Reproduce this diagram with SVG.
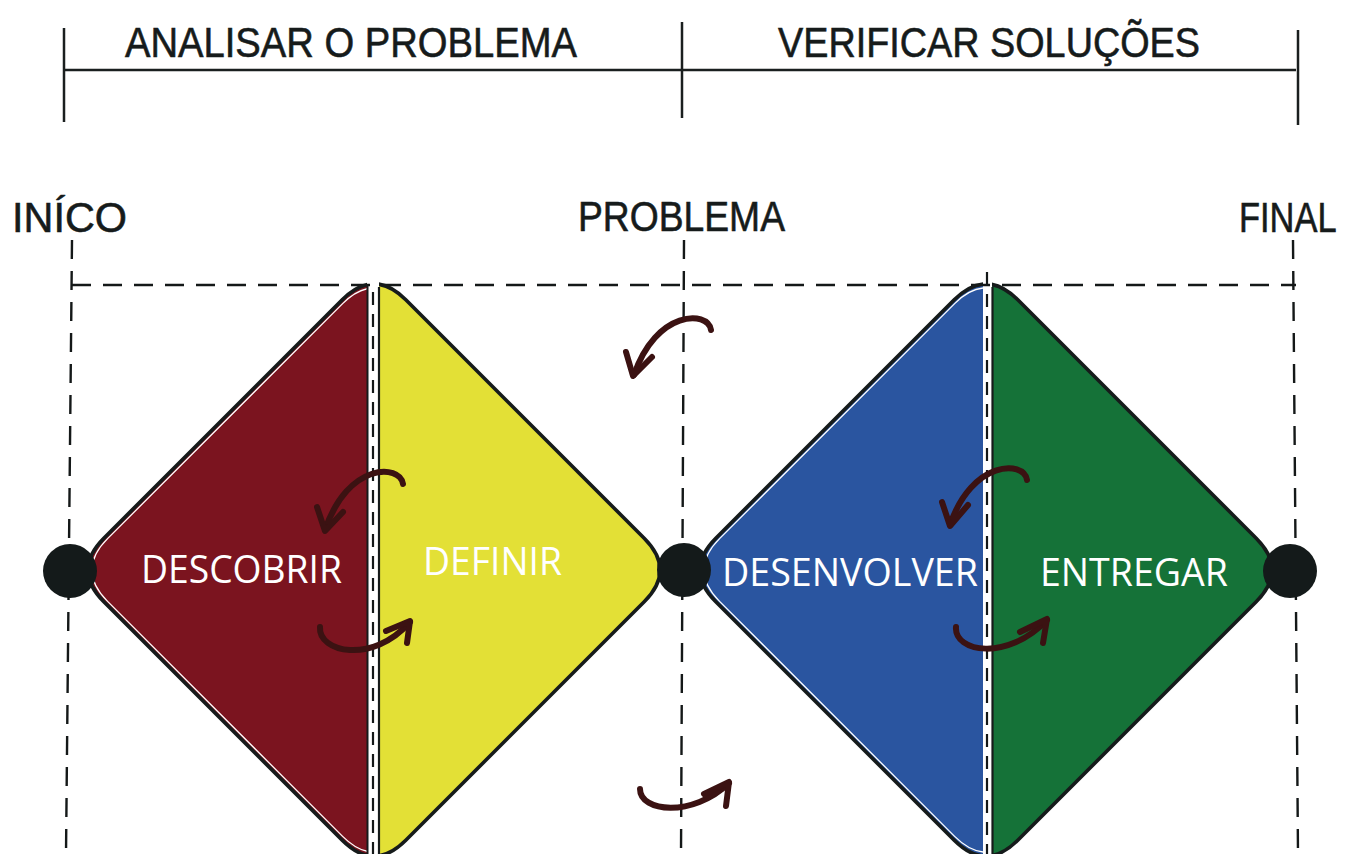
<svg xmlns="http://www.w3.org/2000/svg" width="1346" height="854" viewBox="0 0 1346 854">
<style>
.hdr{font-family:"Liberation Sans",Arial,sans-serif;font-size:42px;fill:#161b1b;stroke:#161b1b;stroke-width:0.6;}
.lbl{font-family:"Open Sans","Liberation Sans",sans-serif;font-size:38px;fill:#ffffff;}
.rule{stroke:#1a1f1f;stroke-width:2.5;fill:none;}
.dash{stroke:#141818;stroke-width:2.4;fill:none;stroke-dasharray:19 12;}
.dashs{stroke:#141818;stroke-width:2.2;fill:none;stroke-dasharray:13 9;}
.out{fill:none;stroke:#161b1b;stroke-width:3.6;stroke-linejoin:round;}
.inner{fill:none;stroke:#ffffff;stroke-width:1.3;}
.arr{fill:none;stroke:#3b1212;stroke-width:6;stroke-linecap:round;stroke-linejoin:round;}
.dot{fill:#141a1a;}
</style>
<defs>
<path id="dia" d="M 405.8,299.8 L 644.2,538.2 Q 676,570 644.2,601.8 L 405.8,840.2 Q 374,872 342.2,840.2 L 103.8,601.8 Q 72,570 103.8,538.2 L 342.2,299.8 Q 374,268 405.8,299.8 Z"/>
<clipPath id="cLA"><rect x="0" y="0" width="367" height="854"/></clipPath>
<clipPath id="cLB"><rect x="379" y="0" width="320" height="854"/></clipPath>
<clipPath id="cRA"><rect x="600" y="0" width="383" height="854"/></clipPath>
<clipPath id="cRB"><rect x="992" y="0" width="354" height="854"/></clipPath>
</defs>

<g id="header">
<line class="rule" x1="64" y1="28" x2="64" y2="122"/>
<line class="rule" x1="682" y1="22" x2="682" y2="118"/>
<line class="rule" x1="1298" y1="30" x2="1298" y2="125"/>
<line class="rule" x1="64" y1="70" x2="1296" y2="70"/>
<text class="hdr" x="125" y="57" textLength="452" lengthAdjust="spacingAndGlyphs">ANALISAR O PROBLEMA</text>
<text class="hdr" x="778" y="57" textLength="422" lengthAdjust="spacingAndGlyphs">VERIFICAR SOLUÇÕES</text>
<text class="hdr" x="12" y="232" textLength="115" lengthAdjust="spacingAndGlyphs">INÍCO</text>
<text class="hdr" x="578" y="231" textLength="207" lengthAdjust="spacingAndGlyphs">PROBLEMA</text>
<text class="hdr" x="0" y="0" transform="translate(1239 232) scale(0.82 1)">FINAL</text>
</g>

<g id="guides">
<line class="dash" x1="72" y1="240" x2="66" y2="854"/>
<line class="dash" x1="684" y1="240" x2="681" y2="854"/>
<line class="dash" x1="1293" y1="240" x2="1298" y2="854"/>
<line class="dash" x1="72" y1="285" x2="1296" y2="285"/>
</g>

<g id="diamond-left">
<use href="#dia" fill="#7b141f" clip-path="url(#cLA)"/>
<use href="#dia" fill="#e3e036" clip-path="url(#cLB)"/>
<g clip-path="url(#cLA)"><use href="#dia" class="inner" transform="translate(374 570) scale(0.986) translate(-374 -570)"/></g>
<use href="#dia" class="out" clip-path="url(#cLA)"/>
<use href="#dia" class="out" clip-path="url(#cLB)"/>
<line x1="367.5" y1="285" x2="367.5" y2="854" stroke="#161b1b" stroke-width="2"/>
<line x1="379" y1="287" x2="379" y2="854" stroke="#161b1b" stroke-width="2.2"/>
<line class="dashs" x1="373" y1="292" x2="373" y2="854"/>
<text class="lbl" x="141" y="583" textLength="201" lengthAdjust="spacingAndGlyphs">DESCOBRIR</text>
<text class="lbl" x="423" y="575" textLength="139" lengthAdjust="spacingAndGlyphs">DEFINIR</text>
</g>

<g id="diamond-right">
<g clip-path="url(#cRA)"><use href="#dia" fill="#2a55a0" transform="translate(612 0)"/></g>
<g clip-path="url(#cRB)"><use href="#dia" fill="#157238" transform="translate(612 0)"/></g>
<g clip-path="url(#cRA)"><use href="#dia" class="inner" transform="translate(986 570) scale(0.986) translate(-374 -570)"/></g>
<g clip-path="url(#cRA)"><use href="#dia" class="out" transform="translate(612 0)"/></g>
<g clip-path="url(#cRB)"><use href="#dia" class="out" transform="translate(612 0)"/></g>
<line x1="992.5" y1="287" x2="992.5" y2="854" stroke="#161b1b" stroke-width="2.2"/>
<line class="dashs" x1="987" y1="272" x2="987" y2="854"/>
<text class="lbl" x="722" y="586" textLength="256" lengthAdjust="spacingAndGlyphs">DESENVOLVER</text>
<text class="lbl" x="1040" y="586" textLength="188" lengthAdjust="spacingAndGlyphs">ENTREGAR</text>
</g>

<g id="node-inicio"><circle class="dot" cx="70" cy="571" r="27"/></g>
<g id="node-problema"><circle class="dot" cx="684" cy="570" r="27"/></g>
<g id="node-final"><circle class="dot" cx="1290" cy="571" r="27"/></g>

<g id="connectors">
<path class="arr" d="M 403,484 C 400,464 348,462 325,530"/>
<path class="arr" d="M 317,507 L 325,531 L 343,512"/>
<path class="arr" d="M 320,627 C 318,652 372,665 410,622"/>
<path class="arr" d="M 386,631 L 410,621 L 407,643"/>
<path class="arr" d="M 711,330 C 708,310 656,310 634,375"/>
<path class="arr" d="M 626,352 L 633,376 L 652,357"/>
<path class="arr" d="M 640,789 C 640,812 692,818 729,783"/>
<path class="arr" d="M 704,794 L 729,782 L 726,806"/>
<path class="arr" d="M 1027,480 C 1024,460 972,460 950,525"/>
<path class="arr" d="M 942,502 L 950,526 L 968,505"/>
<path class="arr" d="M 956,627 C 954,652 1007,662 1047,620"/>
<path class="arr" d="M 1020,632 L 1047,619 L 1043,643"/>
</g>
</svg>
